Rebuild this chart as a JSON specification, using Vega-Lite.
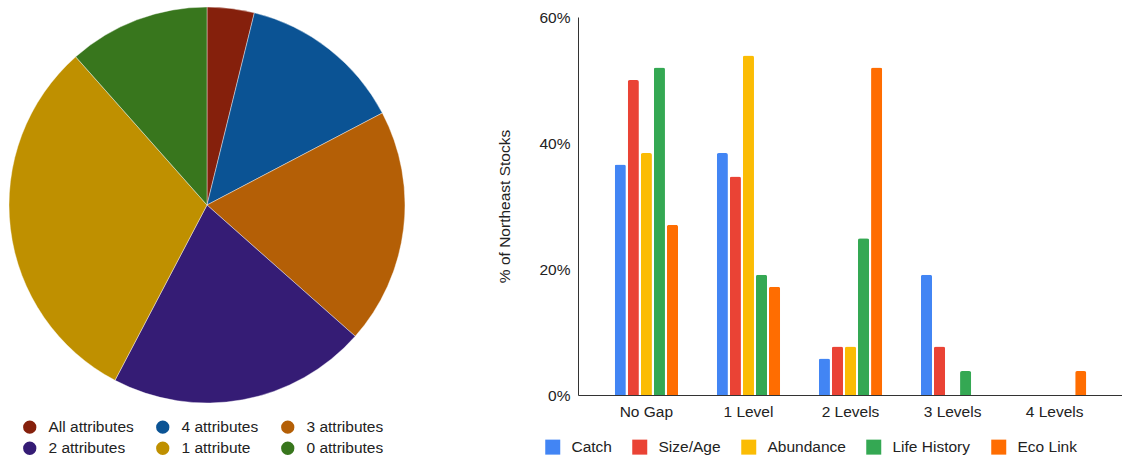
{
  "$schema": "https://vega.github.io/schema/vega-lite/v6.json",
  "background": "white",
  "padding": {"left": 8, "top": 6, "right": 0, "bottom": 0},
  "config": {
    "font": "Liberation Sans",
    "view": {"stroke": null},
    "concat": {"spacing": 91}
  },
  "resolve": {"scale": {"color": "independent"}, "legend": {"color": "independent"}},
  "datasets": {
    "pie": [
      {"category": "All attributes", "stocks": 2},
      {"category": "4 attributes", "stocks": 7},
      {"category": "3 attributes", "stocks": 10},
      {"category": "2 attributes", "stocks": 11},
      {"category": "1 attribute", "stocks": 16},
      {"category": "0 attributes", "stocks": 6}
    ],
    "bars": [
      {"gap": "No Gap", "attribute": "Catch", "share": 0.366},
      {"gap": "No Gap", "attribute": "Size/Age", "share": 0.50},
      {"gap": "No Gap", "attribute": "Abundance", "share": 0.384},
      {"gap": "No Gap", "attribute": "Life History", "share": 0.52},
      {"gap": "No Gap", "attribute": "Eco Link", "share": 0.27},
      {"gap": "1 Level", "attribute": "Catch", "share": 0.384},
      {"gap": "1 Level", "attribute": "Size/Age", "share": 0.347},
      {"gap": "1 Level", "attribute": "Abundance", "share": 0.539},
      {"gap": "1 Level", "attribute": "Life History", "share": 0.191},
      {"gap": "1 Level", "attribute": "Eco Link", "share": 0.172},
      {"gap": "2 Levels", "attribute": "Catch", "share": 0.058},
      {"gap": "2 Levels", "attribute": "Size/Age", "share": 0.077},
      {"gap": "2 Levels", "attribute": "Abundance", "share": 0.077},
      {"gap": "2 Levels", "attribute": "Life History", "share": 0.249},
      {"gap": "2 Levels", "attribute": "Eco Link", "share": 0.52},
      {"gap": "3 Levels", "attribute": "Catch", "share": 0.191},
      {"gap": "3 Levels", "attribute": "Size/Age", "share": 0.077},
      {"gap": "3 Levels", "attribute": "Abundance", "share": 0},
      {"gap": "3 Levels", "attribute": "Life History", "share": 0.038},
      {"gap": "3 Levels", "attribute": "Eco Link", "share": 0},
      {"gap": "4 Levels", "attribute": "Catch", "share": 0},
      {"gap": "4 Levels", "attribute": "Size/Age", "share": 0},
      {"gap": "4 Levels", "attribute": "Abundance", "share": 0},
      {"gap": "4 Levels", "attribute": "Life History", "share": 0},
      {"gap": "4 Levels", "attribute": "Eco Link", "share": 0.038}
    ]
  },
  "hconcat": [
    {
      "width": 396,
      "height": 396,
      "data": {"name": "pie"},
      "mark": {"type": "arc", "stroke": "white", "strokeWidth": 0.4},
      "encoding": {
        "theta": {
          "field": "stocks",
          "type": "quantitative",
          "stack": true,
          "scale": {"range": [6.283185307179586, 0]}
        },
        "color": {
          "field": "category",
          "type": "nominal",
          "sort": ["All attributes", "4 attributes", "3 attributes", "2 attributes", "1 attribute", "0 attributes"],
          "scale": {
            "domain": ["All attributes", "4 attributes", "3 attributes", "2 attributes", "1 attribute", "0 attributes"],
            "range": ["#85200c", "#0b5394", "#b45f06", "#351c75", "#bf9000", "#38761d"]
          },
          "legend": {
            "title": null,
            "orient": "none",
            "legendX": 13,
            "legendY": 412,
            "direction": "horizontal",
            "columns": 3,
            "symbolType": "circle",
            "symbolSize": 177,
            "symbolStrokeWidth": 0,
            "labelOffset": 11,
            "labelFontSize": 15.5,
            "labelColor": "#222222",
            "columnPadding": 21,
            "rowPadding": 4.5
          }
        }
      }
    },
    {
      "width": 545,
      "height": 388,
      "data": {"name": "bars"},
      "mark": {"type": "bar", "cornerRadiusTopLeft": 2, "cornerRadiusTopRight": 2},
      "encoding": {
        "x": {
          "field": "gap",
          "type": "nominal",
          "sort": ["No Gap", "1 Level", "2 Levels", "3 Levels", "4 Levels"],
          "scale": {"paddingInner": 0.38, "paddingOuter": 0.36},
          "axis": {
            "title": null,
            "labelAngle": 0,
            "ticks": false,
            "labelFontSize": 15.5,
            "labelColor": "#222222",
            "labelPadding": 9,
            "domainColor": "#333333",
            "grid": false
          }
        },
        "xOffset": {
          "field": "attribute",
          "type": "nominal",
          "sort": ["Catch", "Size/Age", "Abundance", "Life History", "Eco Link"],
          "scale": {"paddingInner": 0.15}
        },
        "y": {
          "field": "share",
          "type": "quantitative",
          "scale": {"domain": [0, 0.6], "range": [388, 10], "nice": false},
          "axis": {
            "title": "% of Northeast Stocks",
            "titleFontSize": 15.5,
            "titleFontWeight": "normal",
            "titleColor": "#222222",
            "titlePadding": 26,
            "values": [0, 0.2, 0.4, 0.6],
            "format": ".0%",
            "ticks": false,
            "grid": false,
            "labelFontSize": 15.5,
            "labelColor": "#222222",
            "labelPadding": 8,
            "domainColor": "#333333"
          }
        },
        "color": {
          "field": "attribute",
          "type": "nominal",
          "sort": ["Catch", "Size/Age", "Abundance", "Life History", "Eco Link"],
          "scale": {
            "domain": ["Catch", "Size/Age", "Abundance", "Life History", "Eco Link"],
            "range": ["#4285f4", "#ea4335", "#fbbc04", "#34a853", "#ff6d01"]
          },
          "legend": {
            "title": null,
            "orient": "none",
            "legendX": -33,
            "legendY": 432,
            "direction": "horizontal",
            "symbolType": "square",
            "symbolSize": 225,
            "symbolStrokeWidth": 0,
            "labelOffset": 11,
            "labelFontSize": 15.5,
            "labelColor": "#222222",
            "columnPadding": 20
          }
        }
      }
    }
  ]
}
